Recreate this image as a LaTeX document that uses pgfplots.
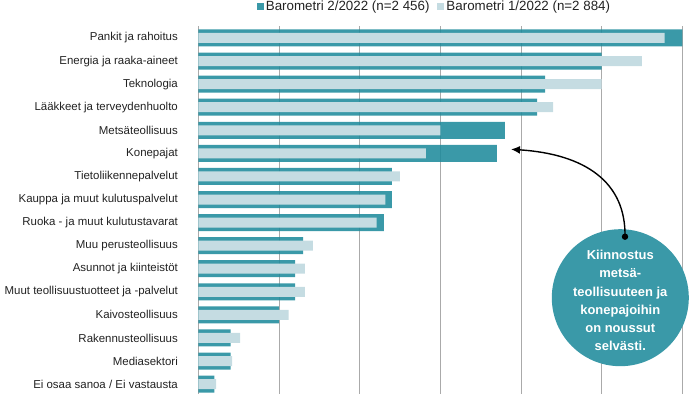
\documentclass[border=0pt]{standalone}
\usepackage{fontspec}
\setmainfont{Liberation Sans}
\usepackage{pgfplots}
\pgfplotsset{compat=1.18}
\usetikzlibrary{arrows.meta}
\definecolor{tealbar}{HTML}{3A99A8}
\definecolor{tealbase}{HTML}{1F8B9C}
\definecolor{lightbar}{HTML}{C5DCE2}
\definecolor{gridgray}{HTML}{AAAAAA}
\definecolor{labeltext}{HTML}{222222}
\begin{document}
\begin{tikzpicture}[x=1bp,y=1bp]
\useasboundingbox (-198.3,0) rectangle (501.7,394);
\begin{axis}[
  at={(0,0)}, anchor=south west,
  scale only axis, width=484bp, height=368bp,
  xbar, y dir=reverse,
  xmin=0, xmax=30, ymin=-0.52, ymax=15.43,
  enlargelimits=false,
  xtick={0,5,10,15,20,25,30}, xticklabels={},
  xmajorgrids, grid style={gridgray, line width=0.9bp},
  ytick={0,...,15},
  yticklabels={Pankit ja rahoitus, Energia ja raaka-aineet, Teknologia, Lääkkeet ja terveydenhuolto, Metsäteollisuus, Konepajat, Tietoliikennepalvelut, Kauppa ja muut kulutuspalvelut, Ruoka - ja muut kulutustavarat, Muu perusteollisuus, Asunnot ja kiinteistöt, Muut teollisuustuotteet ja -palvelut, Kaivosteollisuus, Rakennusteollisuus, Mediasektori, Ei osaa sanoa / Ei vastausta},
  yticklabel style={font=\fontsize{11.5}{13}\selectfont, text=labeltext, inner sep=0pt, xshift=-16bp},
  axis line style={draw=none},
  tick style={draw=none},
  legend style={draw=none, fill=none, legend columns=2, font=\fontsize{13.4}{15}\selectfont, text=labeltext,
    at={(0.488,1.0543)}, anchor=center,
    /tikz/every even column/.append style={column sep=6bp}},
  legend image code/.code={\fill[#1] (0bp,-4bp) rectangle (7bp,3bp);},
]
\addplot[fill=tealbase, draw=none, fill opacity=0.88, bar width=17bp, bar shift=0bp] coordinates {
(30,0) (25,1) (21.5,2) (21,3) (19,4) (18.5,5) (12,6) (12,7) (11.5,8) (6.5,9) (6,10) (6,11) (5,12) (2,13) (2,14) (1,15)};
\addlegendentry{Barometri 2/2022 (n=2 456)}
\addplot[fill=lightbar, draw=none, bar width=10bp, bar shift=0bp] coordinates {
(28.9,0) (27.5,1) (25,2) (22,3) (15,4) (14.1,5) (12.5,6) (11.6,7) (11.05,8) (7.1,9) (6.6,10) (6.6,11) (5.6,12) (2.6,13) (2.1,14) (1.1,15)};
\addlegendentry{Barometri 1/2022 (n=2 884)}
\end{axis}
\begin{scope}[shift={(-198.3,0)}]
\fill[tealbar] (620.3,96.3) circle (68.5);
\node[text=white, font=\bfseries\fontsize{13}{18.3}\selectfont, align=center] at (620.3,93.5)
  {Kiinnostus\\metsä-\\teollisuuteen ja\\konepajoihin\\on noussut\\selvästi.};
\draw[line width=1.4bp, -{Latex[length=9bp,width=8bp]}] (625,157.3) .. controls (626,212) and (585,240) .. (511,244.7);
\fill (625,157.3) circle (3.2);
\end{scope}
\end{tikzpicture}
\end{document}
